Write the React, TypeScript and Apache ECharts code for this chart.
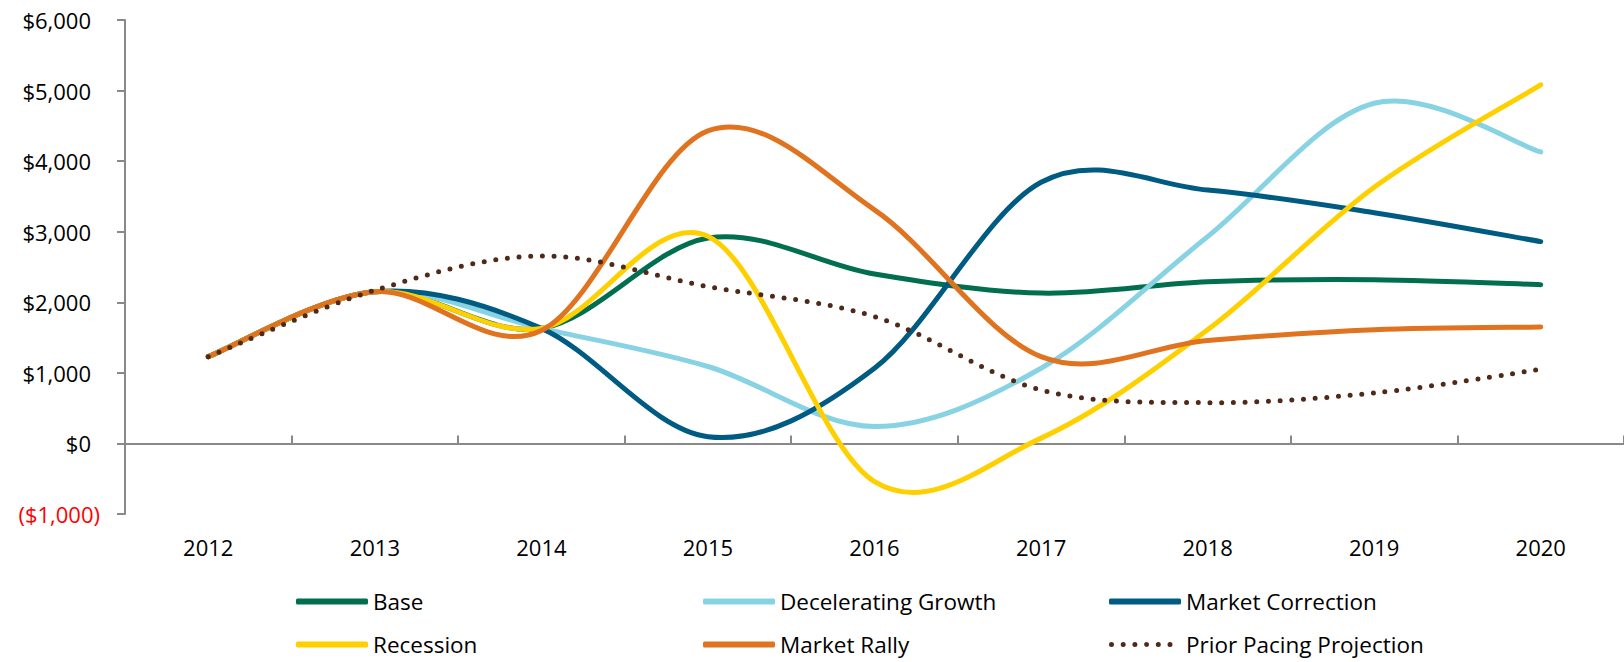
import React, { useEffect, useRef } from "react";
import * as echarts from "echarts";

const years = ["2012", "2013", "2014", "2015", "2016", "2017", "2018", "2019", "2020"];
const baseValues = [1230, 2150, 1630, 2910, 2400, 2130, 2290, 2320, 2250];
const deceleratingValues = [1230, 2150, 1630, 1090, 240, 1065, 2930, 4820, 4130];
const correctionValues = [1230, 2150, 1630, 95, 1065, 3700, 3590, 3270, 2860];
const recessionValues = [1230, 2150, 1630, 2935, -540, 75, 1610, 3630, 5080];
const rallyValues = [1230, 2150, 1600, 4430, 3310, 1230, 1460, 1610, 1650];
const priorValues = [1230, 2170, 2657, 2222, 1797, 758, 578, 715, 1050];
const seriesNames = ["Base", "Decelerating Growth", "Market Correction", "Recession", "Market Rally", "Prior Pacing Projection"];
const yTicks = { min: -1000, max: 6000, step: 1000 };

const FONT = "Open Sans";

function dotsIcon() {
  const r = 2.5;
  let d = "";
  for (let k = 0; k < 6; k++) {
    const cx = 2.5 + k * 11.7;
    d += `M${cx - r},2.5a${r},${r} 0 1,0 ${2 * r},0a${r},${r} 0 1,0 ${-2 * r},0Z`;
  }
  const t = 0.02;
  d += `M${72 - 2 * t},2.5a${t},${t} 0 1,0 ${2 * t},0a${t},${t} 0 1,0 ${-2 * t},0Z`;
  return "path://" + d;
}

export default function App() {
  const ref = useRef<HTMLDivElement>(null);
  useEffect(() => {
    document.body.style.margin = "0";
    const chart = echarts.init(ref.current!, null, { renderer: "svg" });
    const defs = [
      { data: baseValues, color: "#006E4F", dotted: false },
      { data: deceleratingValues, color: "#87D3E3", dotted: false },
      { data: correctionValues, color: "#005B83", dotted: false },
      { data: recessionValues, color: "#FFD000", dotted: false },
      { data: rallyValues, color: "#E0731F", dotted: false },
      { data: priorValues, color: "#4F2A18", dotted: true },
    ];
    const legendSpots = [
      { left: 296, top: 590 },
      { left: 703, top: 590 },
      { left: 1109, top: 590 },
      { left: 296, top: 633 },
      { left: 703, top: 633 },
      { left: 1109, top: 633 },
    ];
    const axisGrey = "#898989";
    const fmt = (n: number) => n.toLocaleString("en-US");

    const makeRender = (values: number[], color: string, dotted: boolean) => (params: any, api: any) => {
      if (params.dataIndex !== 0) return { type: "group", children: [] };
      const pts = values.map((v, j) => api.coord([j, v]));
      const n = pts.length;
      let d = `M${pts[0][0]},${pts[0][1]}`;
      for (let i = 0; i < n - 1; i++) {
        const p0 = pts[Math.max(0, i - 1)];
        const p1 = pts[i];
        const p2 = pts[i + 1];
        const p3 = pts[Math.min(n - 1, i + 2)];
        const c1x = p1[0] + (p2[0] - p0[0]) / 6;
        const c1y = p1[1] + (p2[1] - p0[1]) / 6;
        const c2x = p2[0] - (p3[0] - p1[0]) / 6;
        const c2y = p2[1] - (p3[1] - p1[1]) / 6;
        d += `C${c1x},${c1y},${c2x},${c2y},${p2[0]},${p2[1]}`;
      }
      return {
        type: "path",
        silent: true,
        shape: { pathData: d },
        style: dotted
          ? { fill: "none", stroke: color, lineWidth: 5, lineDash: [0, 11.7], lineCap: "round" }
          : { fill: "none", stroke: color, lineWidth: 5, lineCap: "round", lineJoin: "round" },
      };
    };

    chart.setOption({
      animation: false,
      grid: { left: 125, right: -8, top: 20, bottom: 148, containLabel: false },
      xAxis: [
        {
          type: "category",
          data: years,
          position: "bottom",
          axisLine: { show: false, onZero: false },
          axisTick: { show: false },
          axisLabel: { margin: 22, fontSize: 22, fontFamily: FONT, color: "#000" },
        },
        {
          type: "category",
          data: years,
          position: "bottom",
          axisLine: { show: true, onZero: true, lineStyle: { color: axisGrey, width: 2 } },
          axisTick: { show: true, inside: true, length: 8, lineStyle: { color: axisGrey, width: 2 } },
          axisLabel: { show: false },
        },
      ],
      yAxis: {
        type: "value",
        min: yTicks.min,
        max: yTicks.max,
        interval: yTicks.step,
        splitLine: { show: false },
        axisLine: { show: true, lineStyle: { color: axisGrey, width: 2 } },
        axisTick: { show: true, length: 8, lineStyle: { color: axisGrey, width: 2 } },
        axisLabel: {
          margin: 25,
          formatter: (v: number) => (v < 0 ? `{neg|($${fmt(-v)})}` : `{pos|$${fmt(v)}}`),
          rich: {
            pos: { fontSize: 22, fontFamily: FONT, color: "#000", padding: [0, 9, 0, 0] },
            neg: { fontSize: 22, fontFamily: FONT, color: "#FF0000" },
          },
        },
      },
      legend: seriesNames.map((name, i) => ({
        data: [{ name, icon: defs[i].dotted ? dotsIcon() : "roundRect" }],
        left: legendSpots[i].left,
        top: legendSpots[i].top,
        itemWidth: 72,
        itemHeight: defs[i].dotted ? 5 : 6,
        itemGap: 6,
        padding: 0,
        selectedMode: false,
        textStyle: { fontSize: 22.5, fontFamily: FONT, color: "#000" },
      })),
      series: defs.map((d, i) => ({
        name: seriesNames[i],
        type: "custom",
        xAxisIndex: 0,
        data: d.data.map((v, j) => [j, v]),
        encode: { x: 0, y: 1 },
        color: d.color,
        itemStyle: { color: d.color },
        renderItem: makeRender(d.data, d.color, d.dotted),
      })),
    });
    return () => chart.dispose();
  }, []);
  return <div ref={ref} style={{ position: "absolute", left: 0, top: 0, width: 1624, height: 662 }} />;
}
